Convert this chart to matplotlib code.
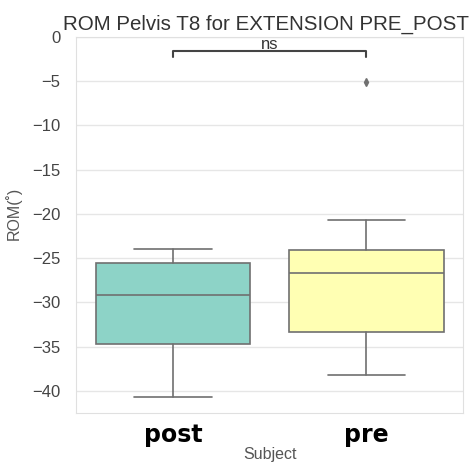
import numpy as np
import matplotlib
matplotlib.use("Agg")
import matplotlib.pyplot as plt
import seaborn as sns

# Box summary values
subjects = ["post", "pre"]
medians = [-29.2, -26.7]
q1 = [-34.7, -33.3]
q3 = [-25.5, -24.1]
whisk_lo = [-40.7, -38.2]
whisk_hi = [-24.0, -20.7]
outliers = [[], [-5.1]]
colors = ["#8dd3c7", "#ffffb3"]
yticks = [0, -5, -10, -15, -20, -25, -30, -35, -40]

sns.set_style("whitegrid")
plt.rcParams["font.family"] = ["Liberation Sans", "DejaVu Sans"]

fig = plt.figure(figsize=(4.76, 4.62), dpi=100)
ax = fig.add_axes([0.16, 0.106, 0.813, 0.814])

stats = []
for i, name in enumerate(subjects):
    stats.append({
        "label": name,
        "med": medians[i],
        "q1": q1[i],
        "q3": q3[i],
        "whislo": whisk_lo[i],
        "whishi": whisk_hi[i],
        "fliers": outliers[i],
    })

edge = "#707070"
bp = ax.bxp(stats, positions=range(len(subjects)), widths=0.8, patch_artist=True,
            boxprops=dict(edgecolor=edge, linewidth=1.2),
            medianprops=dict(color=edge, linewidth=1.2),
            whiskerprops=dict(color=edge, linewidth=1.2),
            capprops=dict(color=edge, linewidth=1.2),
            flierprops=dict(marker="d", markersize=4, markerfacecolor=edge,
                            markeredgecolor=edge))
for patch, c in zip(bp["boxes"], colors):
    patch.set_facecolor(c)

# significance bracket
y_br, h = -1.6, 0.7
ax.plot([0, 0, 1, 1], [y_br - h, y_br, y_br, y_br - h], color="#444444", lw=1.5)
ax.text(0.5, y_br - 0.1, "ns", ha="center", va="bottom", fontsize=12, color="#333333")

ax.set_xlim(-0.5, 1.5)
ax.set_ylim(-42.5, 0)
ax.set_yticks(yticks)
ax.set_yticklabels([f"\u2212{abs(t)}" if t else "0" for t in yticks])
ax.tick_params(axis="y", labelsize=12, labelcolor="#444444", pad=8)
ax.tick_params(axis="x", pad=4)
ax.set_xticks(range(len(subjects)))
ax.set_xticklabels(subjects, fontsize=17, fontweight="bold", color="black",
                   family=["DejaVu Sans"])
ax.grid(axis="x", visible=False)
ax.grid(axis="y", color="#e6e6e6", lw=1)
for s in ax.spines.values():
    s.set_color("#e0e0e0")

ax.set_title("ROM Pelvis T8 for EXTENSION PRE_POST", fontsize=14.8, color="#333333",
             pad=5, x=0.49)
ax.set_xlabel("Subject", fontsize=11.5, color="#555555", labelpad=0)
ax.set_ylabel("ROM(\u02da)", fontsize=11.5, color="#555555", labelpad=6)
ax.yaxis.set_label_coords(-0.14, 0.53)

fig.savefig("out.png", dpi=100)
